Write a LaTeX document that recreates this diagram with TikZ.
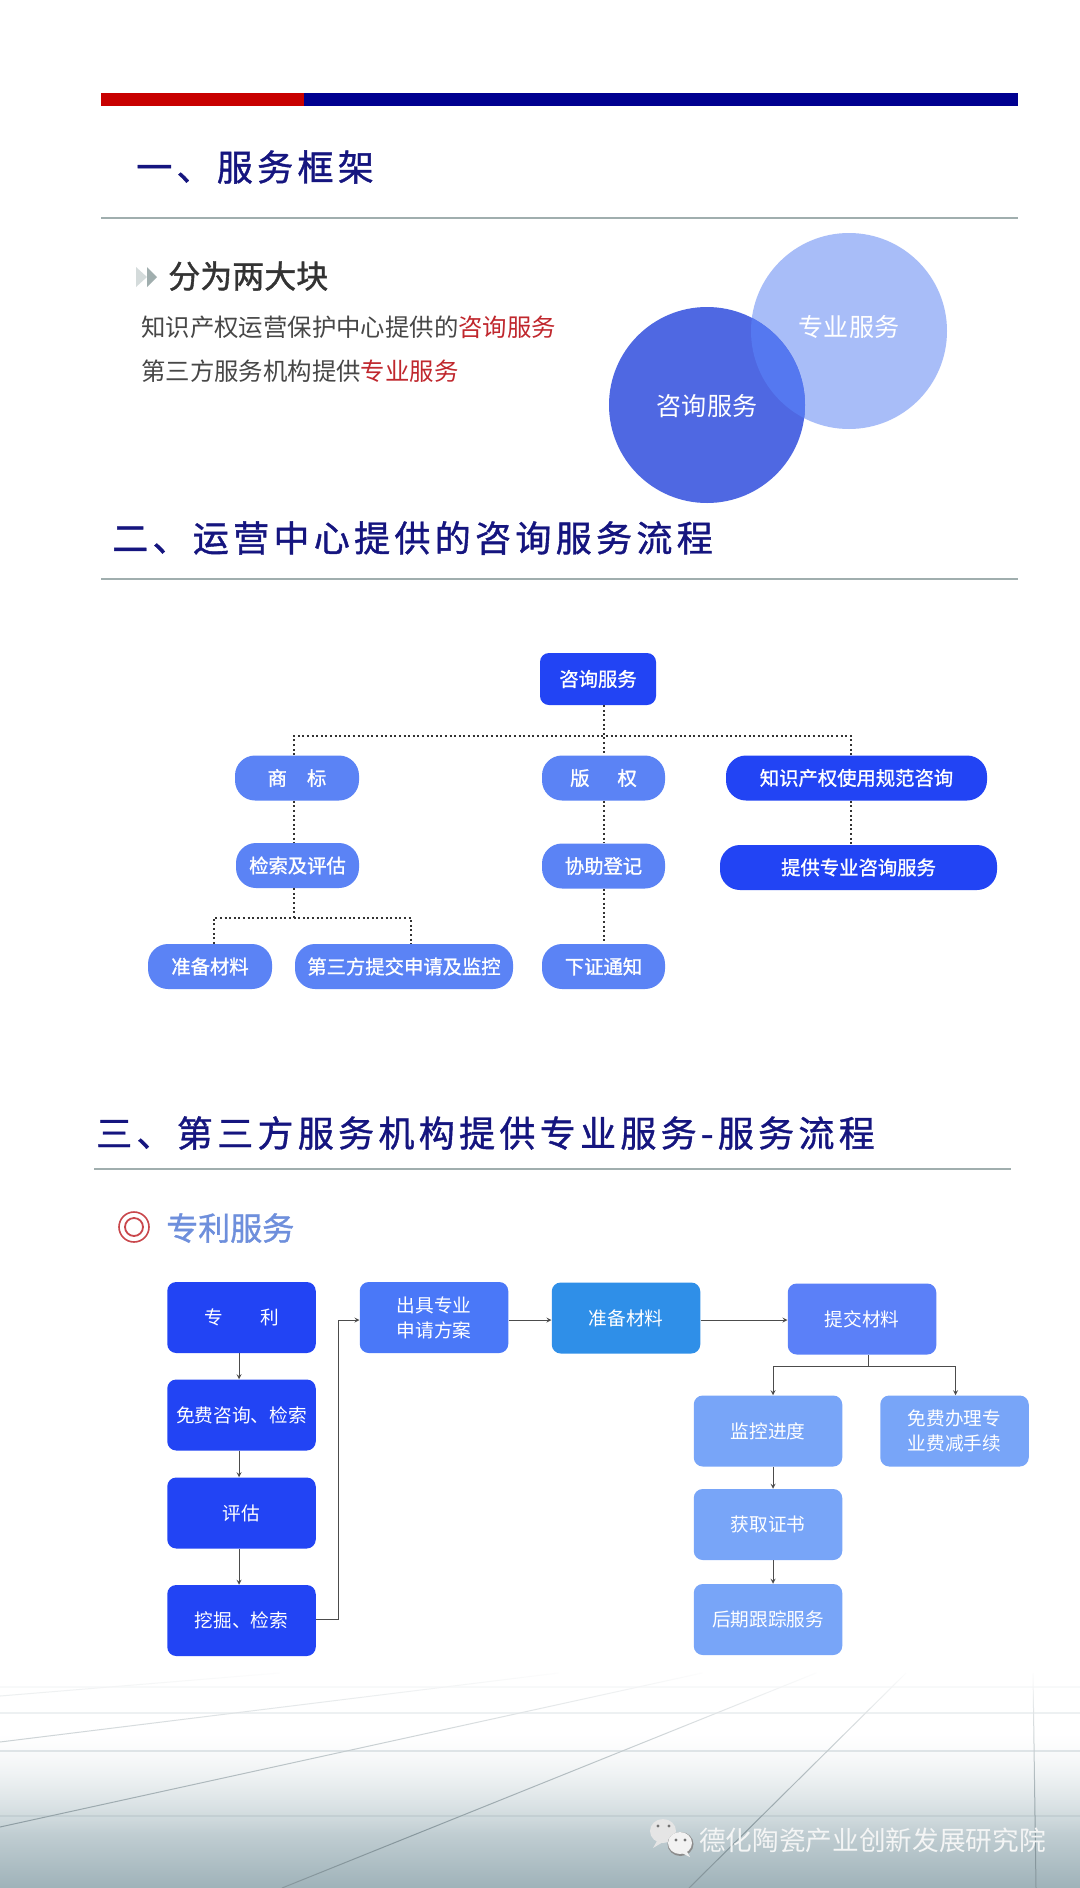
\documentclass[tikz,border=0pt]{standalone}
\usepackage{fontspec}
\setmainfont{Noto Sans CJK SC}
\newfontfamily\headfont[LetterSpace=12,FakeBold=1.1]{Noto Sans CJK SC}
\newfontfamily\subfont[FakeBold=1.2]{Noto Sans CJK SC}
\usepackage{tikz}
\usetikzlibrary{fadings}
\newdimen\px
\px=0.75pt
\definecolor{barred}{HTML}{C80000}
\definecolor{barnavy}{HTML}{000090}
\definecolor{headnavy}{HTML}{15157F}
\definecolor{rulegray}{HTML}{A0AEAE}
\definecolor{deepblue}{HTML}{2244F4}
\definecolor{midblue}{HTML}{5B83F5}
\definecolor{planblue}{HTML}{4A78F8}
\definecolor{skyblue}{HTML}{2F8FE8}
\definecolor{handblue}{HTML}{5B80F8}
\definecolor{paleblue}{HTML}{78A5F8}
\definecolor{hotred}{HTML}{C0272D}
\definecolor{groundmid}{HTML}{CBD6DA}
\definecolor{groundlow}{HTML}{9FB2B9}
\definecolor{circlelight}{HTML}{A8BDF8}
\definecolor{circledark}{HTML}{4F68E2}
\definecolor{circlemix}{HTML}{5578F0}
\definecolor{patenttitle}{HTML}{6E8FDC}
\tikzset{
  x=0.75pt, y=-0.75pt,
  heading/.style={anchor=west, inner sep=0pt, text=headnavy, font=\headfont\fontsize{27}{30}\selectfont},
  bodytext/.style={anchor=west, inner sep=0pt, text=black!72, font=\fontsize{18.3}{24}\selectfont},
  circletext/.style={inner sep=0pt, text=white, font=\fontsize{18.8}{24}\selectfont},
  pillbox/.style={fill=midblue, text=white, rounded corners=20\px, minimum height=45\px, inner sep=0pt, font=\subfont\fontsize{14.5}{18}\selectfont},
  flowbox/.style={fill=deepblue, text=white, rounded corners=9\px, minimum width=148.5\px, minimum height=71\px, inner sep=0pt, align=center, font=\fontsize{14}{18.75}\selectfont},
  dotline/.style={draw=black!80, line width=2\px, dash pattern=on 2\px off 2.6\px},
  flowline/.style={draw=black!70, line width=0.9\px},
  gridline/.style={draw=groundlow!85!black, line width=1\px},
  crossline/.style={draw=groundlow!70!white, line width=1.2\px}
}
\begin{document}
\begin{tikzpicture}
\useasboundingbox (0,0) rectangle (1080,1888);
\fill[white] (0,0) rectangle (1080,1888);

\fill[top color=white, bottom color=groundmid] (0,1735) rectangle (1080,1816);
\fill[top color=groundmid, bottom color=groundlow] (0,1816) rectangle (1080,1888);
\draw[crossline] (0,1687) -- (1080,1687);
\draw[crossline] (0,1713) -- (1080,1713);
\draw[crossline] (0,1751) -- (1080,1751);
\draw[crossline] (0,1816) -- (1080,1816);
\draw[gridline] (0,1696) -- (279,1673);
\draw[gridline] (0,1742) -- (558,1673);
\draw[gridline] (0,1827) -- (702,1673);
\draw[gridline] (282,1888) -- (816,1673);
\draw[gridline] (689,1888) -- (906,1673);
\draw[gridline] (1036,1888) -- (1033,1673);
\fill[white, path fading=south] (0,1670) rectangle (1080,1835);

\fill[barred] (101,93) rectangle (304,106);
\fill[barnavy] (304,93) rectangle (1018,106);
\draw[rulegray, line width=2.4\px] (101,218) -- (1018,218);
\draw[rulegray, line width=2.4\px] (101,579) -- (1018,579);
\draw[rulegray, line width=2.4\px] (94,1169) -- (1011,1169);

\node[heading] (headone) at (136,167) {一、服务框架};
\node[heading] (headtwo) at (112,538) {二、运营中心提供的咨询服务流程};
\node[heading] (headthree) at (96,1133) {三、第三方服务机构提供专业服务-服务流程};

\fill[rulegray!45] (136,267) -- (147,277) -- (136,287) -- cycle;
\fill[rulegray] (147,267) -- (157,277) -- (147,287) -- cycle;
\node[anchor=west, inner sep=0pt, text=black!80, font=\subfont\fontsize{24}{28}\selectfont] (block) at (168,276) {分为两大块};
\node[bodytext] (lineone) at (141,327) {知识产权运营保护中心提供的\textcolor{hotred}{咨询服务}};
\node[bodytext] (linetwo) at (141,371) {第三方服务机构提供\textcolor{hotred}{专业服务}};

\coordinate (L) at (849,331);
\coordinate (D) at (707,405);
\fill[circlelight] (L) circle (98);
\fill[circledark] (D) circle (98);
\begin{scope}
\clip (L) circle (98);
\fill[circlemix] (D) circle (98);
\end{scope}
\node[circletext] (zhuanye) at (849,327) {专业服务};
\node[circletext] (zixunc) at (707,406) {咨询服务};

\node[fill=deepblue, text=white, rounded corners=9\px, minimum width=116\px, minimum height=52\px, inner sep=0pt, font=\subfont\fontsize{14.5}{18}\selectfont] (zixun) at (598,679) {咨询服务};
\node[pillbox, minimum width=124\px] (shangbiao) at (297,778) {商\hspace{15pt}标};
\node[pillbox, minimum width=123\px] (banquan) at (603.5,778) {版\hspace{21pt}权};
\node[pillbox, fill=deepblue, minimum width=261\px] (guifan) at (856.5,778) {知识产权使用规范咨询};
\node[pillbox, minimum width=123\px] (jiansuo) at (297.5,865.5) {检索及评估};
\node[pillbox, minimum width=123\px] (dengji) at (603.5,866) {协助登记};
\node[pillbox, fill=deepblue, minimum width=277\px] (tigong) at (858.5,867.5) {提供专业咨询服务};
\node[pillbox, minimum width=124\px] (cailiao) at (210,966.5) {准备材料};
\node[pillbox, minimum width=218\px] (disanfang) at (404,966.5) {第三方提交申请及监控};
\node[pillbox, minimum width=123\px] (xiazheng) at (603.5,966.5) {下证通知};

\coordinate (T) at (603.5,736);
\coordinate (A) at (294,736);
\coordinate (B) at (851,736);
\coordinate (C) at (294,918);
\coordinate (E) at (213.5,918);
\coordinate (F) at (411,918);

\draw[dotline] (zixun.south -| T) -- (banquan.north);
\draw[dotline] (shangbiao.north -| A) -- (A) -- (B) -- (guifan.north -| B);
\draw[dotline] (shangbiao.south -| A) -- (jiansuo.north -| A);
\draw[dotline] (banquan.south) -- (dengji.north);
\draw[dotline] (dengji.south) -- (xiazheng.north);
\draw[dotline] (guifan.south -| B) -- (tigong.north -| B);
\draw[dotline] (jiansuo.south -| C) -- (C);
\draw[dotline] (cailiao.north -| E) -- (E) -- (F) -- (disanfang.north -| F);

\draw[hotred!85, line width=1.6\px] (134,1227) circle (15);
\draw[hotred!85, line width=1.8\px] (134,1227) circle (9);
\node[anchor=west, inner sep=0pt, text=patenttitle, font=\subfont\fontsize{24}{28}\selectfont] (zhuanli) at (166,1228) {专利服务};

\node[flowbox] (patent) at (241.5,1317.5) {专\hspace{28pt}利};
\node[flowbox] (mianfei) at (241.5,1415) {免费咨询、检索};
\node[flowbox] (pinggu) at (241.5,1513) {评估};
\node[flowbox] (wajue) at (241.5,1620.5) {挖掘、检索};
\node[flowbox, fill=planblue] (fangan) at (434,1317.5) {出具专业\\申请方案};
\node[flowbox, fill=skyblue] (zhunbei) at (626,1318) {准备材料};
\node[flowbox, fill=handblue] (tijiao) at (862,1319) {提交材料};
\node[flowbox, fill=paleblue] (jiankong) at (768,1431) {监控进度};
\node[flowbox, fill=paleblue] (banli) at (954.5,1431) {免费办理专\\业费减手续};
\node[flowbox, fill=paleblue] (huoqu) at (768,1524.5) {获取证书};
\node[flowbox, fill=paleblue] (houqi) at (768,1619.5) {后期跟踪服务};

\coordinate (G) at (239,1320);
\coordinate (H) at (338,1619);
\coordinate (I) at (338,1320);
\coordinate (J) at (868,1366);
\coordinate (K) at (773,1366);
\coordinate (M) at (955.5,1366);

\draw[flowline, -stealth] (patent.south -| G) -- (mianfei.north -| G);
\draw[flowline, -stealth] (mianfei.south -| G) -- (pinggu.north -| G);
\draw[flowline, -stealth] (pinggu.south -| G) -- (wajue.north -| G);
\draw[flowline, -stealth] (wajue.east |- H) -- (H) -- (I) -- (fangan.west |- I);
\draw[flowline, -stealth] (fangan.east |- I) -- (zhunbei.west |- I);
\draw[flowline, -stealth] (zhunbei.east |- I) -- (tijiao.west |- I);
\draw[flowline] (tijiao.south -| J) -- (J);
\draw[flowline, -stealth] (K) -- (jiankong.north -| K);
\draw[flowline, -stealth] (M) -- (banli.north -| M);
\draw[flowline] (K) -- (M);
\draw[flowline, -stealth] (jiankong.south -| K) -- (huoqu.north -| K);
\draw[flowline, -stealth] (huoqu.south -| K) -- (houqi.north -| K);

\fill[white!90!black] (663,1831) ellipse (13 and 12);
\fill[white!90!black] (657,1841) -- (653,1848) -- (663,1842) -- cycle;
\fill[black!45] (680.5,1844) ellipse (13 and 12);
\fill[white!95!black] (680,1843) ellipse (12 and 11);
\fill[white!95!black] (686,1850) -- (690,1857) -- (680,1852) -- cycle;
\fill[black!55] (658,1826) circle (1.6);
\fill[black!55] (669,1826) circle (1.6);
\fill[black!55] (676,1840) circle (1.6);
\fill[black!55] (685,1840) circle (1.6);
\node[anchor=west, inner sep=0pt, text=white!88!rulegray, font=\fontsize{20}{24}\selectfont] (account) at (699,1840) {德化陶瓷产业创新发展研究院};
\end{tikzpicture}
\end{document}
